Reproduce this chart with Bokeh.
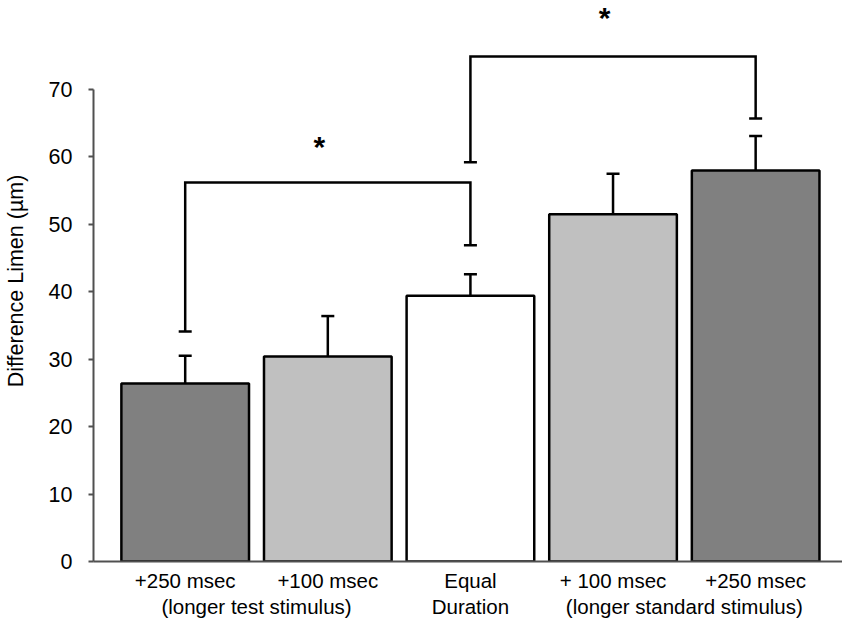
from bokeh.plotting import figure
from bokeh.models import Range1d, LinearAxis, FixedTicker, ColumnDataSource
from bokeh.core.properties import value
from bokeh.embed import file_html
from bokeh.resources import INLINE

# ---- data ----
positions = [0, 1, 2, 3, 4]
label_line1 = ["+250 msec", "+100 msec", "Equal", "+ 100 msec", "+250 msec"]
label_line2_pos = [0.5, 2, 3.5]
label_line2 = ["(longer test stimulus)", "Duration", "(longer standard stimulus)"]
means = [26.4, 30.4, 39.4, 51.5, 58.0]
errors = [4.1, 6.0, 3.2, 6.0, 5.1]
bar_colors = ["#808080", "#c0c0c0", "#ffffff", "#c0c0c0", "#808080"]

# significance brackets: left x, right x, cap at left end, cap at right end, top
br_left = [0, 2]
br_right = [2, 4]
br_left_low = [34.1, 59.2]
br_right_low = [46.9, 65.7]
br_top = [56.2, 74.9]
star_x = [0.94, 2.94]
star_y = [61.5, 80.75]

FONT = "Liberation Sans"
AXIS_COLOR = "#505050"

p = figure(width=842, height=620, output_backend="svg", toolbar_location=None,
           x_range=Range1d(-0.643, 4.609), y_range=Range1d(0, 83.2),
           min_border_left=91, min_border_right=0, min_border_top=0,
           min_border_bottom=56)
p.outline_line_color = None
p.xgrid.grid_line_color = None
p.ygrid.grid_line_color = None
p.background_fill_color = "white"
p.border_fill_color = "white"

# bars
src = ColumnDataSource(dict(x=positions, top=means, color=bar_colors,
                            hi=[m + e for m, e in zip(means, errors)]))
p.vbar(x="x", top="top", bottom=0, width=0.895, source=src, fill_color="color",
       line_color="black", line_width=2.5)

# error bars (upper only)
p.segment(x0="x", y0="top", x1="x", y1="hi", source=src, line_color="black", line_width=2.5)
p.scatter(x="x", y="hi", source=src, marker="dash", size=13, line_color="black", line_width=2.5)

# brackets
xs = [[a, a, b, b] for a, b in zip(br_left, br_right)]
ys = [[l, t, t, r] for l, t, r in zip(br_left_low, br_top, br_right_low)]
p.multi_line(xs=xs, ys=ys, line_color="black", line_width=2.5, line_join="miter")
cap_x = br_left + br_right
cap_y = br_left_low + br_right_low
p.scatter(x=cap_x, y=cap_y, marker="dash", size=13, line_color="black", line_width=2.5)

p.text(x=star_x, y=star_y, text=["*", "*"], text_font=value(FONT), text_font_size="30px",
       text_font_style="bold", text_align="center", text_baseline="alphabetic", text_color="black")

# y axis
ya = p.yaxis[0]
ya.ticker = FixedTicker(ticks=[0, 10, 20, 30, 40, 50, 60, 70])
ya.bounds = (0, 70)
ya.axis_line_color = AXIS_COLOR
ya.axis_line_width = 2
ya.major_tick_line_color = AXIS_COLOR
ya.major_tick_line_width = 2
ya.major_tick_out = 5
ya.major_tick_in = 0
ya.minor_tick_line_color = None
ya.major_label_standoff = 16
ya.major_label_text_font = FONT
ya.major_label_text_font_size = "21.5px"
ya.major_label_text_color = "black"
ya.axis_label = "Difference Limen (µm)"
ya.axis_label_text_font = FONT
ya.axis_label_text_font_size = "21.5px"
ya.axis_label_text_font_style = "normal"
ya.axis_label_text_color = "black"
ya.axis_label_standoff = 18

# x axis: first label line
xa = p.xaxis[0]
xa.ticker = FixedTicker(ticks=positions)
xa.major_label_overrides = {float(k): v for k, v in zip(positions, label_line1)}
xa.axis_line_color = AXIS_COLOR
xa.axis_line_width = 2
xa.major_tick_line_color = None
xa.major_tick_out = 0
xa.major_tick_in = 0
xa.minor_tick_line_color = None
xa.major_label_standoff = 7
xa.major_label_text_font = FONT
xa.major_label_text_font_size = "20.5px"
xa.major_label_text_color = "black"

# x axis: second label line
xa2 = LinearAxis(ticker=FixedTicker(ticks=label_line2_pos))
xa2.major_label_overrides = {float(k): v for k, v in zip(label_line2_pos, label_line2)}
xa2.axis_line_color = None
xa2.major_tick_line_color = None
xa2.major_tick_out = 0
xa2.major_tick_in = 0
xa2.minor_tick_line_color = None
xa2.major_label_standoff = 0
xa2.major_label_text_font = FONT
xa2.major_label_text_font_size = "20.5px"
xa2.major_label_text_color = "black"
p.add_layout(xa2, "below")

open("out.html", "w").write(file_html(p, INLINE))
